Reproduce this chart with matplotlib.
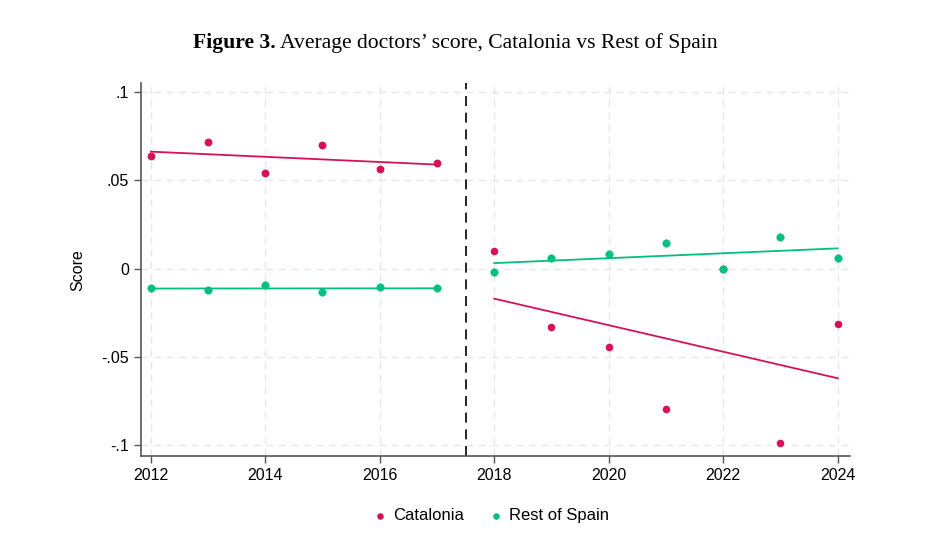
import matplotlib
matplotlib.use("Agg")
import matplotlib.pyplot as plt
import numpy as np

years_pre = [2012, 2013, 2014, 2015, 2016, 2017]
years_post = [2018, 2019, 2020, 2021, 2022, 2023, 2024]
cat_pre = [0.0640, 0.0717, 0.0540, 0.0702, 0.0562, 0.0598]
rest_pre = [-0.0112, -0.0119, -0.0095, -0.0132, -0.0104, -0.0112]
cat_post = [0.0097, -0.0329, -0.0443, -0.0795, 0.0000, -0.0990, -0.0312]
rest_post = [-0.0017, 0.0061, 0.0080, 0.0146, 0.0000, 0.0182, 0.0059]
cutoff = 2017.5
xticks = [2012, 2014, 2016, 2018, 2020, 2022, 2024]
yticks = [-0.1, -0.05, 0, 0.05, 0.1]
ytick_labels = ["-.1", "-.05", "0", ".05", ".1"]

C_CAT = "#d41159"
C_REST = "#00bf7f"

plt.rcParams['font.family'] = ['Liberation Sans', 'DejaVu Sans']

fig = plt.figure(figsize=(9.4, 5.37), dpi=100)
ax = fig.add_axes([0.15, 0.151, 0.754, 0.694])

for xs, ys, c in [(years_pre, cat_pre, C_CAT), (years_pre, rest_pre, C_REST),
                  (years_post, cat_post, C_CAT), (years_post, rest_post, C_REST)]:
    x = np.array(xs, float)
    y = np.array(ys, float)
    b, a = np.polyfit(x, y, 1)
    xx = np.array([x.min(), x.max()])
    ax.plot(xx, a + b * xx, color=c, lw=1.3, zorder=3)

ax.scatter(years_pre, cat_pre, s=32, color=C_CAT, zorder=4, linewidths=0)
ax.scatter(years_post, cat_post, s=30, color=C_CAT, zorder=4, linewidths=0)
ax.scatter(years_pre, rest_pre, s=30, color=C_REST, zorder=5, linewidths=0.3,
           edgecolors=C_REST)
ax.scatter(years_post, rest_post, s=30, color=C_REST, zorder=5, linewidths=0.3,
           edgecolors=C_REST)

ax.axvline(cutoff, color="black", lw=1.2, ls=(0, (6, 4)), zorder=2)

ax.set_xlim(2011.83, 2024.21)
ax.set_ylim(-0.1062, 0.1051)
ax.set_xticks(xticks)
ax.set_xticklabels([str(t) for t in xticks])
ax.set_yticks(yticks)
ax.set_yticklabels(ytick_labels)
ax.grid(True, color="#e6e6e6", ls=(0, (5, 4)), lw=1.0, zorder=0)
ax.set_axisbelow(True)
for s in ["top", "right"]:
    ax.spines[s].set_visible(False)
for s in ["left", "bottom"]:
    ax.spines[s].set_color("#555555")
    ax.spines[s].set_linewidth(1.2)
ax.tick_params(axis="both", colors="#555555", labelcolor="black", labelsize=11.5,
               length=5, width=1.0)
ax.set_ylabel("Score", fontsize=11.5, labelpad=12)

h1 = ax.scatter([], [], s=22, color=C_CAT, linewidths=0)
h2 = ax.scatter([], [], s=22, color=C_REST, linewidths=0)
fig.legend([h1, h2], ["Catalonia", "Rest of Spain"], loc="center",
           bbox_to_anchor=(0.5205, 0.04), ncol=2, frameon=False, fontsize=12,
           handletextpad=0.2, columnspacing=1.3, handlelength=1.2)

t1 = fig.text(0.205, 0.92, "Figure 3.", fontsize=15.6, fontweight="bold",
              family=["Liberation Serif", "DejaVu Serif"], va="center", ha="left")
fig.canvas.draw()
bb = t1.get_window_extent()
x2 = bb.x1 / fig.bbox.width + 0.005
fig.text(x2, 0.92, "Average doctors\u2019 score, Catalonia vs Rest of Spain", fontsize=15.6,
         family=["Liberation Serif", "DejaVu Serif"], va="center", ha="left")

fig.savefig("out.png", dpi=100, facecolor="white")
